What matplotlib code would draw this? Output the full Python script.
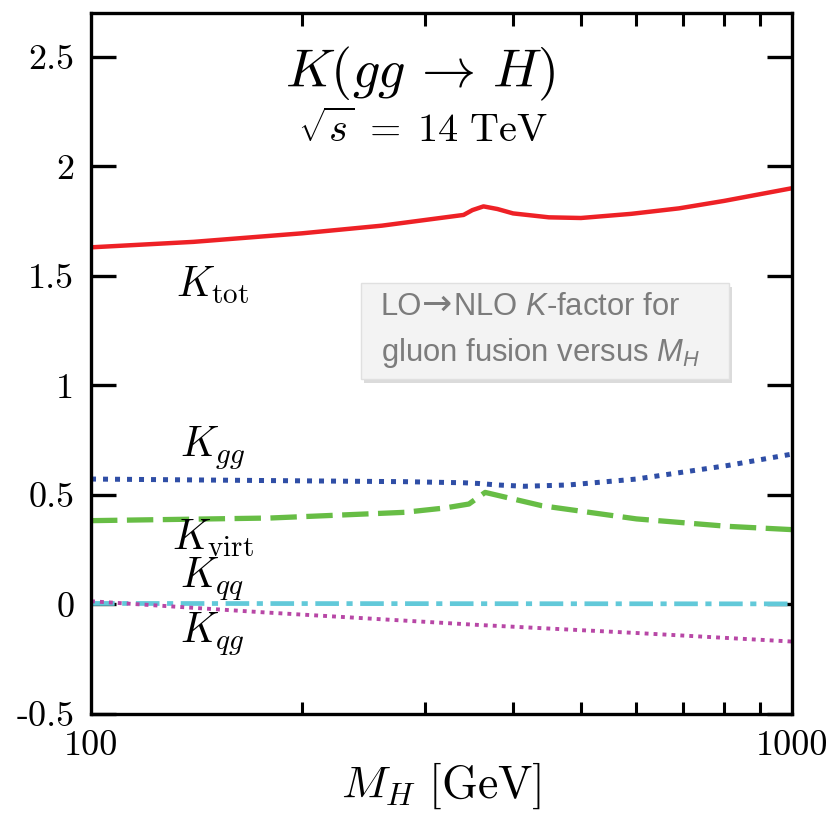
import matplotlib
matplotlib.use("Agg")
import matplotlib.pyplot as plt
import matplotlib.ticker as mticker
import matplotlib.patches as mpatches
import matplotlib.patheffects as pe

plt.rcParams["mathtext.fontset"] = "cm"
plt.rcParams["mathtext.rm"] = "Liberation Sans"
plt.rcParams["mathtext.it"] = "Liberation Sans:italic"
plt.rcParams["axes.unicode_minus"] = False

# values
mh_tot = [100, 140, 200, 260, 340, 350, 363, 380, 400, 450, 500, 590, 690, 800, 1000]
k_tot = [1.63, 1.655, 1.694, 1.729, 1.778, 1.80, 1.817, 1.805, 1.785, 1.767, 1.764, 1.783, 1.808, 1.842, 1.9]

mh_gg = [100, 180, 280, 340, 356, 380, 415, 480, 600, 810, 1000]
k_gg = [0.572, 0.565, 0.56, 0.555, 0.552, 0.545, 0.539, 0.545, 0.572, 0.634, 0.686]

mh_virt = [100, 180, 280, 320, 346, 365, 440, 600, 810, 1000]
k_virt = [0.382, 0.394, 0.42, 0.44, 0.458, 0.511, 0.45, 0.39, 0.356, 0.341]

mh_qq = [100, 1000]
k_qq = [0.004, 0.002]

mh_qg = [100, 177, 356, 600, 1000]
k_qg = [0.014, -0.037, -0.094, -0.131, -0.17]

yticks = [-0.5, 0, 0.5, 1, 1.5, 2, 2.5]
ytick_labels = ["-0.5", "0", "0.5", "1", "1.5", "2", "2.5"]

fig = plt.figure(figsize=(8.32, 8.13), dpi=100)
ax = fig.add_axes([0.1094, 0.122, 0.8425, 0.862])

ax.plot(mh_tot, k_tot, color="#ee2126", lw=3.2, solid_capstyle="butt")
ax.plot(mh_gg, k_gg, color="#2f4ea6", lw=3.6, linestyle=(0, (1, 1.4)))
ax.plot(mh_virt, k_virt, color="#67bd45", lw=3.8, linestyle=(0, (5, 1.8)))
ax.plot(mh_qq, k_qq, color="#62c9d9", lw=3.4, linestyle=(0, (5, 1.6, 1.3, 1.6)))
ax.plot(mh_qg, k_qg, color="#b847a6", lw=2.8, linestyle=(0, (1, 1.3)))

ax.set_xscale("log")
ax.set_xlim(100, 1000)
ax.set_ylim(-0.5, 2.7)

ax.xaxis.set_major_locator(mticker.FixedLocator([100, 1000]))
ax.xaxis.set_major_formatter(mticker.FixedFormatter(["100", "1000"]))
ax.xaxis.set_minor_locator(mticker.FixedLocator([200, 300, 400, 500, 600, 700, 800, 900]))
ax.xaxis.set_minor_formatter(mticker.NullFormatter())
ax.yaxis.set_major_locator(mticker.FixedLocator(yticks))
ax.yaxis.set_major_formatter(mticker.FixedFormatter(ytick_labels))

ax.tick_params(axis="both", which="major", direction="in", length=18, width=2.4,
               labelsize=26, top=True, right=True, pad=12)
ax.tick_params(axis="x", which="major", length=0, pad=12)
ax.tick_params(axis="x", which="minor", direction="in", length=9, width=2.2, top=True)
for lab in ax.get_xticklabels() + ax.get_yticklabels():
    lab.set_fontfamily("cmr10")
for sp in ax.spines.values():
    sp.set_linewidth(2.4)

ax.set_xlabel(r"$M_H\ [\mathrm{GeV}]$", fontsize=33, va="baseline")
ax.xaxis.set_label_coords(0.5, -0.12)

# title block
ax.text(0.469, 0.894, r"$K(gg\,\rightarrow\,H)$", transform=ax.transAxes,
        ha="center", va="baseline", fontsize=39)
ax.text(0.474, 0.816, r"$\sqrt{s}\;=\;14\ \mathrm{TeV}$", transform=ax.transAxes,
        ha="center", va="baseline", fontsize=29)

# curve labels
lab_kw = dict(transform=ax.transAxes, ha="left", va="baseline", fontsize=30)
ax.text(0.121, 0.595, r"$K_{\mathrm{tot}}$", **lab_kw)
ax.text(0.127, 0.367, r"$K_{gg}$", **lab_kw)
ax.text(0.116, 0.234, r"$K_{\mathrm{virt}}$", **lab_kw)
ax.text(0.127, 0.180, r"$K_{qq}$", **lab_kw)
ax.text(0.127, 0.101, r"$K_{qg}$", **lab_kw)

# grey note box
box = mpatches.Rectangle((0.385, 0.478), 0.525, 0.137, transform=ax.transAxes,
                         facecolor="#f3f3f3", edgecolor="#e0e0e0", lw=1, zorder=4)
box.set_path_effects([pe.SimplePatchShadow(offset=(2, -3), shadow_rgbFace="#999999", alpha=0.35),
                      pe.Normal()])
ax.add_patch(box)
note_color = "#7c7c7c"
note_kw = dict(va="baseline", ha="left", fontsize=22.3, color=note_color,
               family=["Liberation Sans", "DejaVu Sans"], math_fontfamily="custom", zorder=5)
line1_y = 0.569
t1 = ax.text(0.4136, line1_y, "LO", transform=ax.transAxes, **note_kw)
t2 = ax.annotate("\u2192", xy=(1, line1_y), xycoords=(t1, "axes fraction"),
                 va="baseline", ha="left", fontsize=26, color=note_color,
                 family="DejaVu Sans", zorder=5)
ax.annotate("NLO $K$-factor for", xy=(1, line1_y), xycoords=(t2, "axes fraction"), **note_kw)
ax.text(0.4136, 0.504, "gluon fusion versus $M_H$", transform=ax.transAxes, **note_kw)

fig.savefig("out.png", dpi=100)
